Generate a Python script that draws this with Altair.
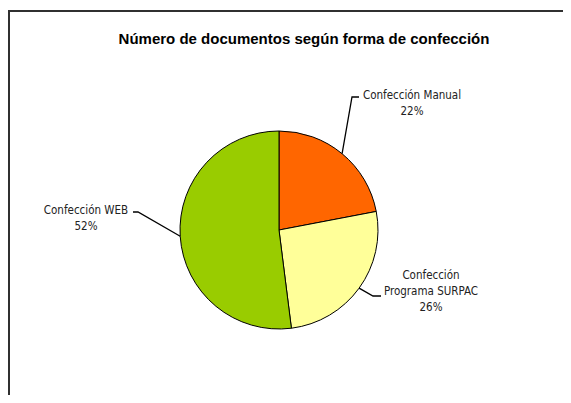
import altair as alt
import pandas as pd

# ---- data ----
categories = ["Confección Manual", "Confección Programa SURPAC", "Confección WEB"]
values = [22, 26, 52]
label_text = ["Confección Manual", "Confección\nPrograma SURPAC", "Confección WEB"]
colors = ["#FF6600", "#FFFF99", "#99CC00"]
title_text = "Número de documentos según forma de confección"

# ---- layout (svg pixels) ----
W, H = 555, 387
CX, CY, R = 271, 222, 99
label_x = [404, 423, 78]
label_y = [91, 271, 206]
elbow_x = [344, 365, 130]
elbow_y = [89, 288, 204]
end_x = [351, 373, 125]
end_y = [89, 288, 204]

FONT = "DejaVu Sans Condensed, Liberation Sans, sans-serif"

df = pd.DataFrame({
    "cat": categories, "val": values, "ord": list(range(len(values))),
    "label": label_text,
    "lx": label_x, "ly": label_y,
    "ex": elbow_x, "ey": elbow_y, "nx": end_x, "ny": end_y,
})

base = alt.Chart(df)

pie = base.mark_arc(outerRadius=R, stroke="black", strokeWidth=1).encode(
    theta=alt.Theta("val:Q", stack=True),
    color=alt.Color("cat:N", scale=alt.Scale(domain=categories, range=colors), legend=None),
    order=alt.Order("ord:Q"),
    x=alt.value(CX), y=alt.value(CY),
)

leaders = base.transform_joinaggregate(
    total="sum(val)"
).transform_window(
    cum="sum(val)", sort=[alt.SortField("ord")], frame=[None, 0]
).transform_calculate(
    mid="(datum.cum - datum.val/2) / datum.total * 2 * PI",
).transform_calculate(
    sx=f"{CX} + {R} * sin(datum.mid)",
    sy=f"{CY} - {R} * cos(datum.mid)",
).transform_calculate(
    xs="[datum.sx, datum.ex, datum.nx]",
    ys="[datum.sy, datum.ey, datum.ny]",
    idx="[0, 1, 2]",
).transform_flatten(["xs", "ys", "idx"]).mark_line(
    color="black", strokeWidth=1.3
).encode(
    x=alt.X("xs:Q", scale=None, axis=None),
    y=alt.Y("ys:Q", scale=None, axis=None),
    detail="cat:N",
    order="idx:Q",
)

labels = base.transform_calculate(
    txt="datum.label + '\\n' + datum.val + '%'"
).mark_text(
    lineBreak="\n", align="center", baseline="alphabetic",
    font=FONT, fontSize=11.5, lineHeight=16, color="#222222",
).encode(
    x=alt.X("lx:Q", scale=None, axis=None),
    y=alt.Y("ly:Q", scale=None, axis=None),
    text="txt:N",
)

title = alt.Chart(pd.DataFrame({"t": [title_text]})).mark_text(
    font="Liberation Sans, Arial, sans-serif", fontSize=15, fontWeight="bold",
    align="center", baseline="alphabetic", color="black",
).encode(x=alt.value(296), y=alt.value(36), text="t:N")

frame_left = alt.Chart(pd.DataFrame({"a": [0]})).mark_rule(
    color="#303030", strokeWidth=2
).encode(x=alt.value(1), y=alt.value(2), y2=alt.value(H))
frame_top = alt.Chart(pd.DataFrame({"a": [0]})).mark_rule(
    color="#303030", strokeWidth=2
).encode(y=alt.value(3), x=alt.value(0), x2=alt.value(W))

chart = alt.layer(pie, leaders, labels, title, frame_left, frame_top).properties(
    width=W, height=H, padding=0, autosize="none", background="white"
).configure_view(stroke=None)

chart.save("out.html", embed_options={"renderer": "svg", "actions": False})
